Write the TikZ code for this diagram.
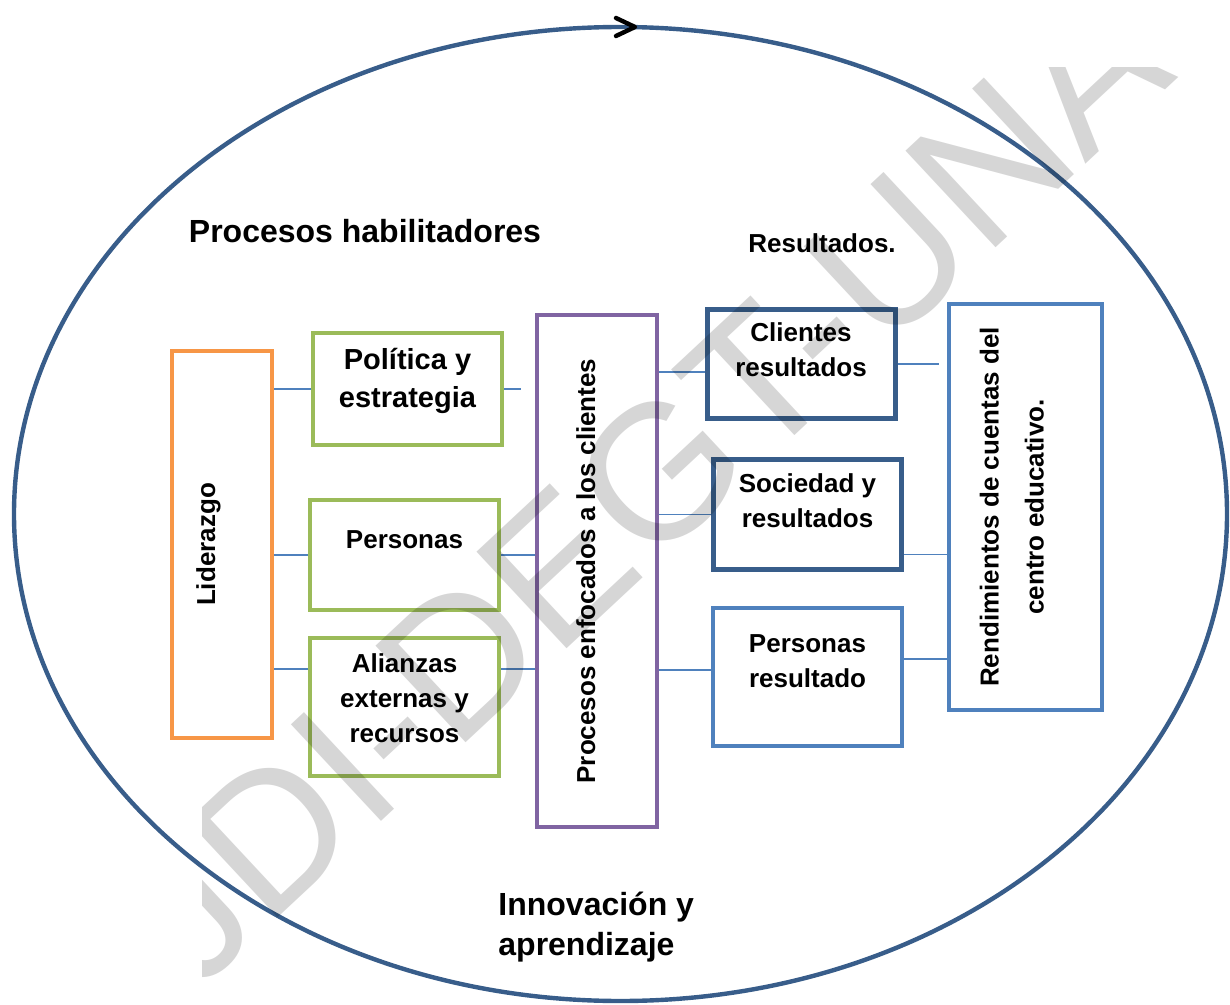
\documentclass[tikz,border=0pt]{standalone}
\usepackage{fontspec}
\setmainfont{Liberation Sans}
\usepackage{graphicx}
\definecolor{ldorange}{HTML}{F79646}
\definecolor{ldgreen}{HTML}{9BBB59}
\definecolor{ldpurple}{HTML}{8064A2}
\definecolor{lddark}{HTML}{385D8A}
\definecolor{ldblue}{HTML}{4F81BD}
% text block, lifted a little inside its box
\newcommand{\bxt}[2]{\raisebox{#1}[\height][\depth]{\begin{tabular}{@{}c@{}}#2\end{tabular}}}
\tikzset{
  every node/.style={font=\bfseries\fontsize{13}{17.5}\selectfont, inner sep=0pt},
  stage/.style={draw, line width=2pt, fill=white},
  leader/.style={stage, draw=ldorange},
  enabler/.style={stage, draw=ldgreen, minimum width=94.5pt},
  process/.style={stage, draw=ldpurple},
  result/.style={stage, draw=lddark, line width=2.5pt, minimum width=94pt},
  resultb/.style={stage, draw=ldblue, minimum width=94.5pt},
  link/.style={draw=ldblue, line width=0.75pt},
  ring/.style={draw=lddark, line width=2.2pt},
  head/.style={font=\bfseries\fontsize{16}{20}\selectfont},
}

\begin{document}
\begin{tikzpicture}[x=0.5pt, y=-0.5pt]
  \useasboundingbox (0,0) rectangle (1230,1005);

  % outer cycle
  \draw[ring] (620.5,514) ellipse [x radius=303.25pt, y radius=243.5pt];
  \coordinate (chevtop) at (616,18);
  \coordinate (chevtip) at (635,27);
  \coordinate (chevbot) at (616,36);
  \draw[line width=2.2pt, line cap=round, line join=round] (chevtop) -- (chevtip) -- (chevbot);

  \node[head] (enab) at (365,231) {Procesos habilitadores};
  \node (res) at (822,243) {Resultados.};
  \node[head, align=left, anchor=west] (innov) at (498,927) {Innovación y\\aprendizaje};

  % enablers
  \node[leader, minimum width=50pt, minimum height=193.5pt] (lid) at (222,544.5)
    {\rotatebox{90}{\bxt{7pt}{Liderazgo}}};
  \node[enabler, minimum height=56pt, font=\bfseries\fontsize{14.5}{19}\selectfont] (pol) at (407.5,389)
    {\bxt{4pt}{Política y\\estrategia}};
  \node[enabler, minimum height=55pt] (per) at (404.5,555) {\bxt{7pt}{Personas}};
  \node[enabler, minimum height=69pt] (ali) at (404.5,707) {\bxt{3.5pt}{Alianzas\\externas y\\recursos}};
  \node[process, minimum width=60pt, minimum height=256pt] (pro) at (597,571)
    {\rotatebox{90}{\bxt{4.5pt}{Procesos enfocados a los clientes}}};

  % results
  \node[result, minimum height=54.5pt] (cli) at (801,364) {\bxt{6pt}{Clientes\\resultados}};
  \node[result, minimum height=55pt] (soc) at (807.5,514.5) {\bxt{6pt}{Sociedad y\\resultados}};
  \node[resultb, minimum height=69pt] (pres) at (807.5,677) {\bxt{7pt}{Personas\\resultado}};
  \node[resultb, minimum width=76.5pt, minimum height=203pt, font=\bfseries\fontsize{13}{22.5}\selectfont] (ren) at (1025.5,507)
    {\rotatebox{90}{\bxt{6.75pt}{Rendimientos de cuentas del\\centro educativo.}}};

  % connectors
  \draw[link] (pol.west) -- (pol.west -| lid.east);
  \draw[link] (per.west) -- (per.west -| lid.east);
  \draw[link] ([yshift=19pt]ali.west) -- ([yshift=19pt]ali.west -| lid.east);
  \draw[link, shorten >=7pt] (pol.east) -- (pol.east -| pro.west);
  \draw[link] (per.east) -- (per.east -| pro.west);
  \draw[link] ([yshift=19pt]ali.east) -- ([yshift=19pt]ali.east -| pro.west);
  \draw[link] ([yshift=-4pt]cli.west) -- ([yshift=-4pt]cli.west -| pro.east);
  \draw[link] (soc.west) -- (soc.west -| pro.east);
  \draw[link] ([yshift=3.5pt]pres.west) -- ([yshift=3.5pt]pres.west -| pro.east);
  \draw[link, shorten >=4pt] (cli.east) -- (cli.east -| ren.west);
  \draw[link] ([yshift=-20pt]soc.east) -- ([yshift=-20pt]soc.east -| ren.west);
  \draw[link] ([yshift=9pt]pres.east) -- ([yshift=9pt]pres.east -| ren.west);

  % watermark
  \begin{scope}
    \clip (202,68) rectangle (1230,990);
    \node[font=\normalfont\fontsize{96}{100}\selectfont, text=black, text opacity=0.16, rotate=43] (mark) at (643,487) {JDI-DEGT-UNA};
  \end{scope}
\end{tikzpicture}
\end{document}
